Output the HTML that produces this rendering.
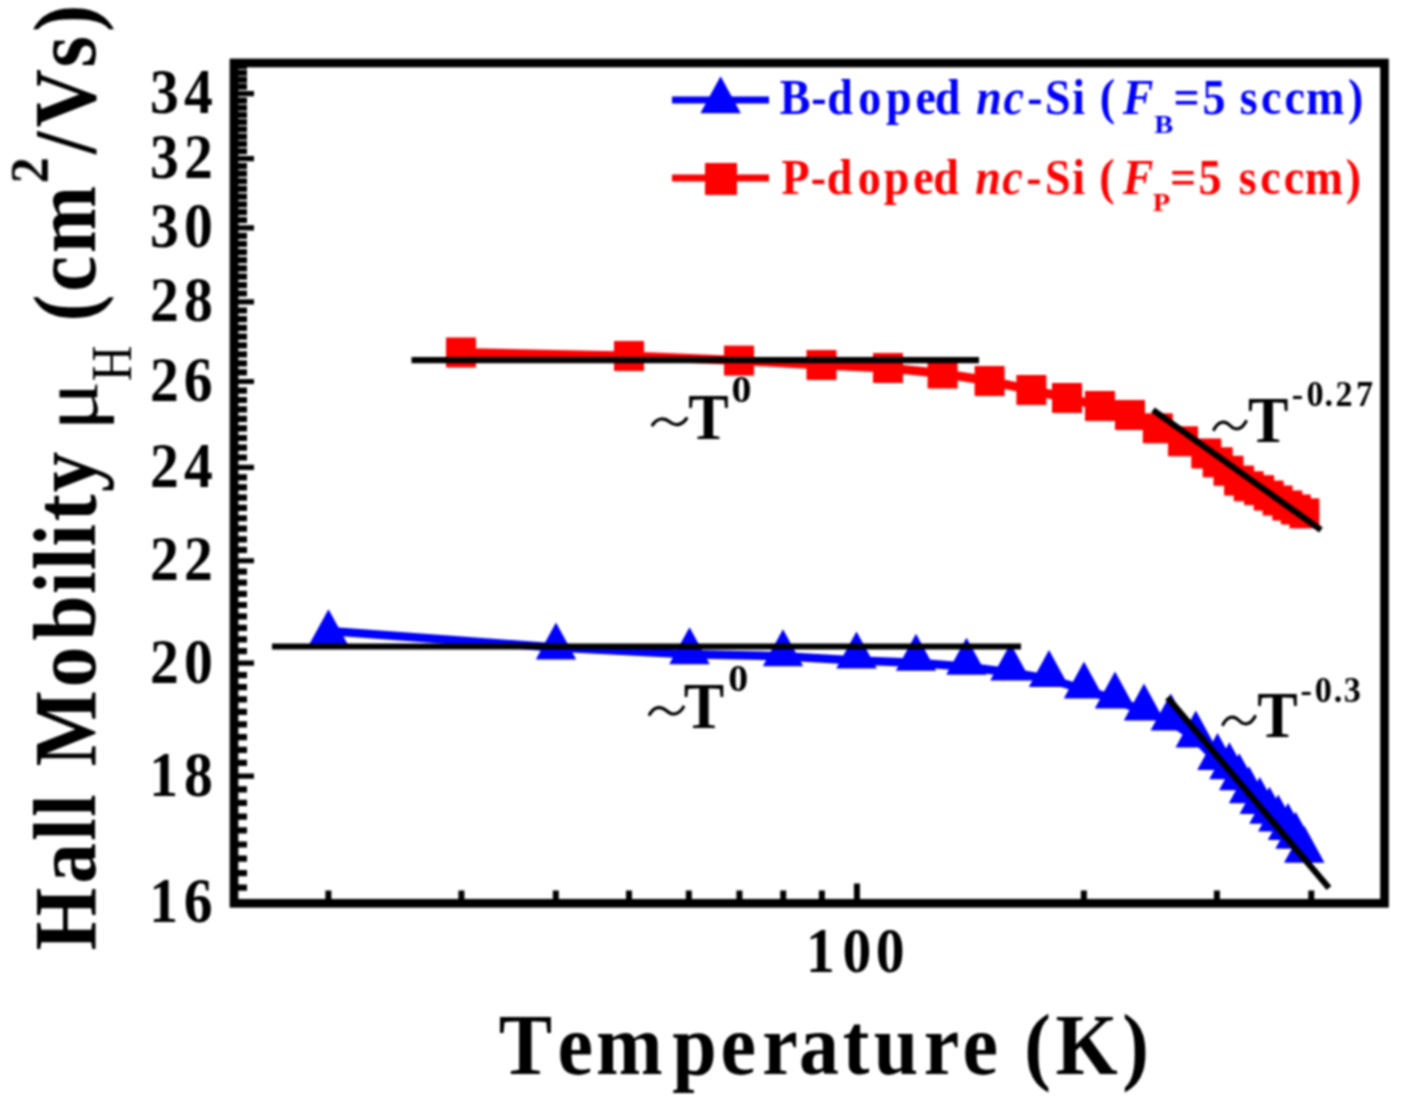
<!DOCTYPE html><html><head><meta charset="utf-8"><style>html,body{margin:0;padding:0;background:#fff}svg{display:block}text{font-family:"Liberation Serif",serif}</style></head><body><svg width="1402" height="1106" viewBox="0 0 1402 1106">
<defs><filter id="bl" x="0" y="0" width="1" height="1" color-interpolation-filters="sRGB"><feGaussianBlur stdDeviation="1.2"/></filter></defs>
<rect x="0" y="0" width="1402" height="1106" fill="#fff"/>
<g filter="url(#bl)">
<rect x="0" y="0" width="1402" height="1106" fill="#fff"/>
<polyline points="461.0,352.5 629.0,356.0 739.0,360.6 821.5,365.0 888.0,368.0 942.6,373.5 989.6,381.0 1031.4,390.0 1067.0,398.0 1100.0,406.0 1130.0,415.0 1157.8,428.3 1183.0,441.3 1206.3,453.5 1217.7,462.3 1228.5,470.8 1239.1,480.6 1248.7,486.3 1259.1,490.2 1268.7,495.6 1277.6,500.5 1287.3,505.5 1295.8,509.5 1304.4,513.4" fill="none" stroke="#f00" stroke-width="9" stroke-linejoin="round"/>
<polyline points="328.5,631.0 556.0,647.5 689.5,654.2 783.0,656.2 856.5,660.5 916.0,662.8 966.5,666.8 1010.5,672.5 1049.0,679.0 1084.0,689.5 1115.0,699.5 1144.0,711.5 1170.8,721.5 1195.8,738.5 1217.5,761.0 1229.4,770.3 1239.2,781.2 1249.0,794.2 1259.8,805.0 1269.5,814.8 1278.2,822.4 1288.0,831.0 1295.6,839.7 1304.3,853.8" fill="none" stroke="#00f" stroke-width="8.5" stroke-linejoin="round"/>
<rect x="446.0" y="337.5" width="30" height="30" fill="#f00"/>
<rect x="614.0" y="341.0" width="30" height="30" fill="#f00"/>
<rect x="724.0" y="345.6" width="30" height="30" fill="#f00"/>
<rect x="806.5" y="350.0" width="30" height="30" fill="#f00"/>
<rect x="873.0" y="353.0" width="30" height="30" fill="#f00"/>
<rect x="927.6" y="358.5" width="30" height="30" fill="#f00"/>
<rect x="974.6" y="366.0" width="30" height="30" fill="#f00"/>
<rect x="1016.4" y="375.0" width="30" height="30" fill="#f00"/>
<rect x="1052.0" y="383.0" width="30" height="30" fill="#f00"/>
<rect x="1085.0" y="391.0" width="30" height="30" fill="#f00"/>
<rect x="1115.0" y="400.0" width="30" height="30" fill="#f00"/>
<rect x="1142.8" y="413.3" width="30" height="30" fill="#f00"/>
<rect x="1168.0" y="426.3" width="30" height="30" fill="#f00"/>
<rect x="1191.3" y="438.5" width="30" height="30" fill="#f00"/>
<rect x="1202.7" y="447.3" width="30" height="30" fill="#f00"/>
<rect x="1213.5" y="455.8" width="30" height="30" fill="#f00"/>
<rect x="1224.1" y="465.6" width="30" height="30" fill="#f00"/>
<rect x="1233.7" y="471.3" width="30" height="30" fill="#f00"/>
<rect x="1244.1" y="475.2" width="30" height="30" fill="#f00"/>
<rect x="1253.7" y="480.6" width="30" height="30" fill="#f00"/>
<rect x="1262.6" y="485.5" width="30" height="30" fill="#f00"/>
<rect x="1272.3" y="490.5" width="30" height="30" fill="#f00"/>
<rect x="1280.8" y="494.5" width="30" height="30" fill="#f00"/>
<rect x="1289.4" y="498.4" width="30" height="30" fill="#f00"/>
<polygon points="308.2,646.3 348.8,646.3 328.5,609.3" fill="#00f"/>
<polygon points="535.8,659.5 576.2,659.5 556.0,622.5" fill="#00f"/>
<polygon points="669.2,664.2 709.8,664.2 689.5,627.2" fill="#00f"/>
<polygon points="762.8,666.2 803.2,666.2 783.0,629.2" fill="#00f"/>
<polygon points="836.2,668.5 876.8,668.5 856.5,631.5" fill="#00f"/>
<polygon points="895.8,670.8 936.2,670.8 916.0,633.8" fill="#00f"/>
<polygon points="946.2,674.8 986.8,674.8 966.5,637.8" fill="#00f"/>
<polygon points="990.2,680.5 1030.8,680.5 1010.5,643.5" fill="#00f"/>
<polygon points="1028.8,687.0 1069.2,687.0 1049.0,650.0" fill="#00f"/>
<polygon points="1063.8,698.5 1104.2,698.5 1084.0,661.5" fill="#00f"/>
<polygon points="1094.8,708.5 1135.2,708.5 1115.0,671.5" fill="#00f"/>
<polygon points="1123.8,720.5 1164.2,720.5 1144.0,683.5" fill="#00f"/>
<polygon points="1150.5,730.5 1191.0,730.5 1170.8,693.5" fill="#00f"/>
<polygon points="1175.5,747.5 1216.0,747.5 1195.8,710.5" fill="#00f"/>
<polygon points="1197.2,770.0 1237.8,770.0 1217.5,733.0" fill="#00f"/>
<polygon points="1209.2,779.3 1249.7,779.3 1229.4,742.3" fill="#00f"/>
<polygon points="1219.0,790.2 1259.5,790.2 1239.2,753.2" fill="#00f"/>
<polygon points="1228.8,803.2 1269.2,803.2 1249.0,766.2" fill="#00f"/>
<polygon points="1239.5,814.0 1280.0,814.0 1259.8,777.0" fill="#00f"/>
<polygon points="1249.2,823.8 1289.8,823.8 1269.5,786.8" fill="#00f"/>
<polygon points="1258.0,831.4 1298.5,831.4 1278.2,794.4" fill="#00f"/>
<polygon points="1267.8,840.0 1308.2,840.0 1288.0,803.0" fill="#00f"/>
<polygon points="1275.3,848.7 1315.8,848.7 1295.6,811.7" fill="#00f"/>
<polygon points="1284.0,862.8 1324.5,862.8 1304.3,825.8" fill="#00f"/>
<line x1="411.5" y1="360.2" x2="979" y2="360.2" stroke="#000" stroke-width="6.2" stroke-linecap="butt"/>
<line x1="1153" y1="410" x2="1321" y2="530" stroke="#000" stroke-width="6.2" stroke-linecap="butt"/>
<line x1="272" y1="646.5" x2="1021" y2="646.5" stroke="#000" stroke-width="6.2" stroke-linecap="butt"/>
<line x1="1167.5" y1="697.5" x2="1329" y2="888" stroke="#000" stroke-width="6.2" stroke-linecap="butt"/>
<path d="M237.3,887.70H247 M237.3,873.10H247 M237.3,858.69H247 M237.3,844.48H247 M237.3,830.45H247 M237.3,816.60H247 M237.3,802.93H247 M237.3,789.43H247 M237.3,762.94H247 M237.3,749.93H247 M237.3,737.08H247 M237.3,724.38H247 M237.3,711.83H247 M237.3,699.42H247 M237.3,687.15H247 M237.3,675.03H247 M237.3,651.18H247 M237.3,639.45H247 M237.3,627.85H247 M237.3,616.37H247 M237.3,605.02H247 M237.3,593.78H247 M237.3,582.66H247 M237.3,571.65H247 M237.3,549.97H247 M237.3,539.30H247 M237.3,528.72H247 M237.3,518.25H247 M237.3,507.88H247 M237.3,497.62H247 M237.3,487.44H247 M237.3,477.37H247 M237.3,457.49H247 M237.3,447.69H247 M237.3,437.98H247 M237.3,428.36H247 M237.3,418.82H247 M237.3,409.36H247 M237.3,399.99H247 M237.3,390.70H247 M237.3,372.36H247 M237.3,363.30H247 M237.3,354.32H247 M237.3,345.41H247 M237.3,336.58H247 M237.3,327.82H247 M237.3,319.13H247 M237.3,310.51H247 M237.3,293.48H247 M237.3,285.06H247 M237.3,276.71H247 M237.3,268.42H247 M237.3,260.20H247 M237.3,252.04H247 M237.3,243.94H247 M237.3,235.90H247 M237.3,220.00H247 M237.3,212.14H247 M237.3,204.34H247 M237.3,196.59H247 M237.3,188.90H247 M237.3,181.26H247 M237.3,173.67H247 M237.3,166.14H247 M237.3,151.24H247 M237.3,143.86H247 M237.3,136.54H247 M237.3,129.26H247 M237.3,122.04H247 M237.3,114.86H247 M237.3,107.73H247 M237.3,100.64H247 M237.3,86.62H247 M237.3,79.67H247 M237.3,72.77H247 M237.3,65.91H247" stroke="#000" stroke-width="6.2" fill="none"/>
<path d="M237.3,902.50H254 M237.3,776.10H254 M237.3,663.04H254 M237.3,560.76H254 M237.3,467.38H254 M237.3,381.49H254 M237.3,301.96H254 M237.3,227.92H254 M237.3,158.67H254 M237.3,93.61H254" stroke="#000" stroke-width="5.2" fill="none"/>
<path d="M328.39,899.9V890.5 M461.42,899.9V890.5 M555.81,899.9V890.5 M629.02,899.9V890.5 M688.84,899.9V890.5 M739.42,899.9V890.5 M783.23,899.9V890.5 M821.88,899.9V890.5 M1083.87,899.9V890.5 M1216.90,899.9V890.5 M1311.29,899.9V890.5 M856.94,899.9V883.5" stroke="#000" stroke-width="6" fill="none"/>
<rect x="234.0" y="63" width="1150.5" height="840.3" fill="none" stroke="#000" stroke-width="8.7"/>
<text transform="translate(149.18,922.00) scale(0.9,1)" font-family="Liberation Serif" font-weight="bold" font-style="normal" font-size="64" fill="#000">1</text>
<text transform="translate(183.76,922.00) scale(0.9,1)" font-family="Liberation Serif" font-weight="bold" font-style="normal" font-size="64" fill="#000">6</text>
<text transform="translate(149.18,795.60) scale(0.9,1)" font-family="Liberation Serif" font-weight="bold" font-style="normal" font-size="64" fill="#000">1</text>
<text transform="translate(183.90,795.60) scale(0.9,1)" font-family="Liberation Serif" font-weight="bold" font-style="normal" font-size="64" fill="#000">8</text>
<text transform="translate(150.03,682.54) scale(0.9,1)" font-family="Liberation Serif" font-weight="bold" font-style="normal" font-size="64" fill="#000">2</text>
<text transform="translate(183.90,682.54) scale(0.9,1)" font-family="Liberation Serif" font-weight="bold" font-style="normal" font-size="64" fill="#000">0</text>
<text transform="translate(150.03,580.26) scale(0.9,1)" font-family="Liberation Serif" font-weight="bold" font-style="normal" font-size="64" fill="#000">2</text>
<text transform="translate(183.93,580.26) scale(0.9,1)" font-family="Liberation Serif" font-weight="bold" font-style="normal" font-size="64" fill="#000">2</text>
<text transform="translate(150.03,486.88) scale(0.9,1)" font-family="Liberation Serif" font-weight="bold" font-style="normal" font-size="64" fill="#000">2</text>
<text transform="translate(184.04,486.88) scale(0.9,1)" font-family="Liberation Serif" font-weight="bold" font-style="normal" font-size="64" fill="#000">4</text>
<text transform="translate(150.03,400.99) scale(0.9,1)" font-family="Liberation Serif" font-weight="bold" font-style="normal" font-size="64" fill="#000">2</text>
<text transform="translate(183.76,400.99) scale(0.9,1)" font-family="Liberation Serif" font-weight="bold" font-style="normal" font-size="64" fill="#000">6</text>
<text transform="translate(150.03,321.46) scale(0.9,1)" font-family="Liberation Serif" font-weight="bold" font-style="normal" font-size="64" fill="#000">2</text>
<text transform="translate(183.90,321.46) scale(0.9,1)" font-family="Liberation Serif" font-weight="bold" font-style="normal" font-size="64" fill="#000">8</text>
<text transform="translate(149.90,247.42) scale(0.9,1)" font-family="Liberation Serif" font-weight="bold" font-style="normal" font-size="64" fill="#000">3</text>
<text transform="translate(183.90,247.42) scale(0.9,1)" font-family="Liberation Serif" font-weight="bold" font-style="normal" font-size="64" fill="#000">0</text>
<text transform="translate(149.90,178.17) scale(0.9,1)" font-family="Liberation Serif" font-weight="bold" font-style="normal" font-size="64" fill="#000">3</text>
<text transform="translate(183.93,178.17) scale(0.9,1)" font-family="Liberation Serif" font-weight="bold" font-style="normal" font-size="64" fill="#000">2</text>
<text transform="translate(149.90,113.11) scale(0.9,1)" font-family="Liberation Serif" font-weight="bold" font-style="normal" font-size="64" fill="#000">3</text>
<text transform="translate(184.04,113.11) scale(0.9,1)" font-family="Liberation Serif" font-weight="bold" font-style="normal" font-size="64" fill="#000">4</text>
<text transform="translate(806.08,971.80) scale(0.9,1)" font-family="Liberation Serif" font-weight="bold" font-style="normal" font-size="64" fill="#000">1</text>
<text transform="translate(842.50,971.80) scale(0.9,1)" font-family="Liberation Serif" font-weight="bold" font-style="normal" font-size="64" fill="#000">0</text>
<text transform="translate(875.70,971.80) scale(0.9,1)" font-family="Liberation Serif" font-weight="bold" font-style="normal" font-size="64" fill="#000">0</text>
<text transform="translate(498.69,1073.50) scale(0.92,1)" font-family="Liberation Serif" font-weight="bold" font-style="normal" font-size="87" fill="#000">T</text>
<text transform="translate(557.56,1073.50) scale(0.92,1)" font-family="Liberation Serif" font-weight="bold" font-style="normal" font-size="87" fill="#000">e</text>
<text transform="translate(596.07,1073.50) scale(0.92,1)" font-family="Liberation Serif" font-weight="bold" font-style="normal" font-size="87" fill="#000">m</text>
<text transform="translate(672.26,1073.50) scale(0.92,1)" font-family="Liberation Serif" font-weight="bold" font-style="normal" font-size="87" fill="#000">p</text>
<text transform="translate(720.61,1073.50) scale(0.92,1)" font-family="Liberation Serif" font-weight="bold" font-style="normal" font-size="87" fill="#000">e</text>
<text transform="translate(762.22,1073.50) scale(0.92,1)" font-family="Liberation Serif" font-weight="bold" font-style="normal" font-size="87" fill="#000">r</text>
<text transform="translate(799.01,1073.50) scale(0.92,1)" font-family="Liberation Serif" font-weight="bold" font-style="normal" font-size="87" fill="#000">a</text>
<text transform="translate(842.85,1073.50) scale(0.92,1)" font-family="Liberation Serif" font-weight="bold" font-style="normal" font-size="87" fill="#000">t</text>
<text transform="translate(873.81,1073.50) scale(0.92,1)" font-family="Liberation Serif" font-weight="bold" font-style="normal" font-size="87" fill="#000">u</text>
<text transform="translate(923.77,1073.50) scale(0.92,1)" font-family="Liberation Serif" font-weight="bold" font-style="normal" font-size="87" fill="#000">r</text>
<text transform="translate(962.61,1073.50) scale(0.92,1)" font-family="Liberation Serif" font-weight="bold" font-style="normal" font-size="87" fill="#000">e</text>
<text transform="translate(1024.30,1073.50) scale(0.92,1)" font-family="Liberation Serif" font-weight="bold" font-style="normal" font-size="87" fill="#000">(</text>
<text transform="translate(1055.40,1073.50) scale(0.92,1)" font-family="Liberation Serif" font-weight="bold" font-style="normal" font-size="87" fill="#000">K</text>
<text transform="translate(1122.19,1073.50) scale(0.92,1)" font-family="Liberation Serif" font-weight="bold" font-style="normal" font-size="87" fill="#000">)</text>
<text transform="rotate(-90) translate(-950.41,94.60) scale(0.92,1)" font-family="Liberation Serif" font-weight="bold" font-style="normal" font-size="88" fill="#000">H</text>
<text transform="rotate(-90) translate(-883.48,94.60) scale(0.92,1)" font-family="Liberation Serif" font-weight="bold" font-style="normal" font-size="88" fill="#000">a</text>
<text transform="rotate(-90) translate(-840.65,94.60) scale(0.92,1)" font-family="Liberation Serif" font-weight="bold" font-style="normal" font-size="88" fill="#000">l</text>
<text transform="rotate(-90) translate(-816.80,94.60) scale(0.92,1)" font-family="Liberation Serif" font-weight="bold" font-style="normal" font-size="88" fill="#000">l</text>
<text transform="rotate(-90) translate(-766.58,94.60) scale(0.92,1)" font-family="Liberation Serif" font-weight="bold" font-style="normal" font-size="88" fill="#000">M</text>
<text transform="rotate(-90) translate(-687.24,94.60) scale(0.92,1)" font-family="Liberation Serif" font-weight="bold" font-style="normal" font-size="88" fill="#000">o</text>
<text transform="rotate(-90) translate(-640.44,94.60) scale(0.92,1)" font-family="Liberation Serif" font-weight="bold" font-style="normal" font-size="88" fill="#000">b</text>
<text transform="rotate(-90) translate(-593.99,94.60) scale(0.92,1)" font-family="Liberation Serif" font-weight="bold" font-style="normal" font-size="88" fill="#000">i</text>
<text transform="rotate(-90) translate(-570.00,94.60) scale(0.92,1)" font-family="Liberation Serif" font-weight="bold" font-style="normal" font-size="88" fill="#000">l</text>
<text transform="rotate(-90) translate(-546.39,94.60) scale(0.92,1)" font-family="Liberation Serif" font-weight="bold" font-style="normal" font-size="88" fill="#000">i</text>
<text transform="rotate(-90) translate(-521.35,94.60) scale(0.92,1)" font-family="Liberation Serif" font-weight="bold" font-style="normal" font-size="88" fill="#000">t</text>
<text transform="rotate(-90) translate(-492.29,94.60) scale(0.92,1)" font-family="Liberation Serif" font-weight="bold" font-style="normal" font-size="88" fill="#000">y</text>
<text transform="rotate(-90) translate(-321.55,94.60) scale(0.92,1)" font-family="Liberation Serif" font-weight="bold" font-style="normal" font-size="88" fill="#000">(</text>
<text transform="rotate(-90) translate(-291.74,94.60) scale(0.92,1)" font-family="Liberation Serif" font-weight="bold" font-style="normal" font-size="88" fill="#000">c</text>
<text transform="rotate(-90) translate(-253.32,94.60) scale(0.92,1)" font-family="Liberation Serif" font-weight="bold" font-style="normal" font-size="88" fill="#000">m</text>
<text transform="rotate(-90) translate(-154.12,94.60) scale(0.92,1)" font-family="Liberation Serif" font-weight="bold" font-style="normal" font-size="88" fill="#000">/</text>
<text transform="rotate(-90) translate(-127.48,94.60) scale(0.92,1)" font-family="Liberation Serif" font-weight="bold" font-style="normal" font-size="88" fill="#000">V</text>
<text transform="rotate(-90) translate(-67.44,94.60) scale(0.92,1)" font-family="Liberation Serif" font-weight="bold" font-style="normal" font-size="88" fill="#000">s</text>
<text transform="rotate(-90) translate(-31.81,94.60) scale(0.92,1)" font-family="Liberation Serif" font-weight="bold" font-style="normal" font-size="88" fill="#000">)</text>
<text transform="rotate(-90) translate(-431.20,96.50) scale(1.18,1)" font-family="Liberation Serif" font-weight="normal" font-style="normal" font-size="80" fill="#000">μ</text>
<text transform="rotate(-90) translate(-381.29,130.50) scale(0.85,1)" font-family="Liberation Serif" font-weight="normal" font-style="normal" font-size="58" fill="#000">H</text>
<text transform="rotate(-90) translate(-183.37,47.80) scale(0.97,1)" font-family="Liberation Serif" font-weight="bold" font-style="normal" font-size="54" fill="#000">2</text>
<line x1="672" y1="100" x2="769" y2="100" stroke="#00f" stroke-width="7"/>
<polygon points="700.35,113.3 740.85,113.3 720.6,76.3" fill="#00f"/>
<line x1="672" y1="178" x2="769" y2="178" stroke="#f00" stroke-width="7"/>
<rect x="705" y="163" width="32" height="32" fill="#f00"/>
<text transform="translate(779.67,113.80) scale(0.92,1)" font-family="Liberation Serif" font-weight="bold" font-style="normal" font-size="50" fill="#00f">B</text>
<text transform="translate(811.24,113.80) scale(0.92,1)" font-family="Liberation Serif" font-weight="bold" font-style="normal" font-size="50" fill="#00f">-</text>
<text transform="translate(827.33,113.80) scale(0.92,1)" font-family="Liberation Serif" font-weight="bold" font-style="normal" font-size="50" fill="#00f">d</text>
<text transform="translate(858.20,113.80) scale(0.92,1)" font-family="Liberation Serif" font-weight="bold" font-style="normal" font-size="50" fill="#00f">o</text>
<text transform="translate(885.90,113.80) scale(0.92,1)" font-family="Liberation Serif" font-weight="bold" font-style="normal" font-size="50" fill="#00f">p</text>
<text transform="translate(915.50,113.80) scale(0.92,1)" font-family="Liberation Serif" font-weight="bold" font-style="normal" font-size="50" fill="#00f">e</text>
<text transform="translate(934.83,113.80) scale(0.92,1)" font-family="Liberation Serif" font-weight="bold" font-style="normal" font-size="50" fill="#00f">d</text>
<text transform="translate(976.36,113.80) scale(0.92,1)" font-family="Liberation Serif" font-weight="bold" font-style="italic" font-size="50" fill="#00f">n</text>
<text transform="translate(1003.39,113.80) scale(0.92,1)" font-family="Liberation Serif" font-weight="bold" font-style="italic" font-size="50" fill="#00f">c</text>
<text transform="translate(1027.34,113.80) scale(0.92,1)" font-family="Liberation Serif" font-weight="bold" font-style="normal" font-size="50" fill="#00f">-</text>
<text transform="translate(1044.96,113.80) scale(0.92,1)" font-family="Liberation Serif" font-weight="bold" font-style="normal" font-size="50" fill="#00f">S</text>
<text transform="translate(1072.29,113.80) scale(0.92,1)" font-family="Liberation Serif" font-weight="bold" font-style="normal" font-size="50" fill="#00f">i</text>
<text transform="translate(1099.72,113.80) scale(0.92,1)" font-family="Liberation Serif" font-weight="bold" font-style="normal" font-size="50" fill="#00f">(</text>
<text transform="translate(1122.71,113.80) scale(0.92,1)" font-family="Liberation Serif" font-weight="bold" font-style="italic" font-size="50" fill="#00f">F</text>
<text transform="translate(1173.52,113.80) scale(0.92,1)" font-family="Liberation Serif" font-weight="bold" font-style="normal" font-size="50" fill="#00f">=</text>
<text transform="translate(1202.62,113.80) scale(0.92,1)" font-family="Liberation Serif" font-weight="bold" font-style="normal" font-size="50" fill="#00f">5</text>
<text transform="translate(1239.76,113.80) scale(0.92,1)" font-family="Liberation Serif" font-weight="bold" font-style="normal" font-size="50" fill="#00f">s</text>
<text transform="translate(1260.88,113.80) scale(0.92,1)" font-family="Liberation Serif" font-weight="bold" font-style="normal" font-size="50" fill="#00f">c</text>
<text transform="translate(1284.38,113.80) scale(0.92,1)" font-family="Liberation Serif" font-weight="bold" font-style="normal" font-size="50" fill="#00f">c</text>
<text transform="translate(1306.07,113.80) scale(0.92,1)" font-family="Liberation Serif" font-weight="bold" font-style="normal" font-size="50" fill="#00f">m</text>
<text transform="translate(1348.06,113.80) scale(0.92,1)" font-family="Liberation Serif" font-weight="bold" font-style="normal" font-size="50" fill="#00f">)</text>
<text transform="translate(1154.22,132.50) scale(1.1,1)" font-family="Liberation Serif" font-weight="bold" font-style="normal" font-size="26" fill="#00f">B</text>
<text transform="translate(781.51,193.50) scale(0.92,1)" font-family="Liberation Serif" font-weight="bold" font-style="normal" font-size="50" fill="#f00">P</text>
<text transform="translate(810.69,193.50) scale(0.92,1)" font-family="Liberation Serif" font-weight="bold" font-style="normal" font-size="50" fill="#f00">-</text>
<text transform="translate(826.83,193.50) scale(0.92,1)" font-family="Liberation Serif" font-weight="bold" font-style="normal" font-size="50" fill="#f00">d</text>
<text transform="translate(857.70,193.50) scale(0.92,1)" font-family="Liberation Serif" font-weight="bold" font-style="normal" font-size="50" fill="#f00">o</text>
<text transform="translate(883.70,193.50) scale(0.92,1)" font-family="Liberation Serif" font-weight="bold" font-style="normal" font-size="50" fill="#f00">p</text>
<text transform="translate(913.35,193.50) scale(0.92,1)" font-family="Liberation Serif" font-weight="bold" font-style="normal" font-size="50" fill="#f00">e</text>
<text transform="translate(933.28,193.50) scale(0.92,1)" font-family="Liberation Serif" font-weight="bold" font-style="normal" font-size="50" fill="#f00">d</text>
<text transform="translate(975.21,193.50) scale(0.92,1)" font-family="Liberation Serif" font-weight="bold" font-style="italic" font-size="50" fill="#f00">n</text>
<text transform="translate(1002.34,193.50) scale(0.92,1)" font-family="Liberation Serif" font-weight="bold" font-style="italic" font-size="50" fill="#f00">c</text>
<text transform="translate(1026.24,193.50) scale(0.92,1)" font-family="Liberation Serif" font-weight="bold" font-style="normal" font-size="50" fill="#f00">-</text>
<text transform="translate(1044.96,193.50) scale(0.92,1)" font-family="Liberation Serif" font-weight="bold" font-style="normal" font-size="50" fill="#f00">S</text>
<text transform="translate(1072.29,193.50) scale(0.92,1)" font-family="Liberation Serif" font-weight="bold" font-style="normal" font-size="50" fill="#f00">i</text>
<text transform="translate(1099.17,193.50) scale(0.92,1)" font-family="Liberation Serif" font-weight="bold" font-style="normal" font-size="50" fill="#f00">(</text>
<text transform="translate(1122.71,193.50) scale(0.92,1)" font-family="Liberation Serif" font-weight="bold" font-style="italic" font-size="50" fill="#f00">F</text>
<text transform="translate(1170.02,193.50) scale(0.92,1)" font-family="Liberation Serif" font-weight="bold" font-style="normal" font-size="50" fill="#f00">=</text>
<text transform="translate(1198.57,193.50) scale(0.92,1)" font-family="Liberation Serif" font-weight="bold" font-style="normal" font-size="50" fill="#f00">5</text>
<text transform="translate(1238.66,193.50) scale(0.92,1)" font-family="Liberation Serif" font-weight="bold" font-style="normal" font-size="50" fill="#f00">s</text>
<text transform="translate(1260.33,193.50) scale(0.92,1)" font-family="Liberation Serif" font-weight="bold" font-style="normal" font-size="50" fill="#f00">c</text>
<text transform="translate(1283.78,193.50) scale(0.92,1)" font-family="Liberation Serif" font-weight="bold" font-style="normal" font-size="50" fill="#f00">c</text>
<text transform="translate(1304.87,193.50) scale(0.92,1)" font-family="Liberation Serif" font-weight="bold" font-style="normal" font-size="50" fill="#f00">m</text>
<text transform="translate(1345.71,193.50) scale(0.92,1)" font-family="Liberation Serif" font-weight="bold" font-style="normal" font-size="50" fill="#f00">)</text>
<text transform="translate(1152.63,211.00) scale(1.1,1)" font-family="Liberation Serif" font-weight="bold" font-style="normal" font-size="26" fill="#f00">P</text>
<path d="M652.5,425.0 C657.7,417.5 664.3,417.5 669.5,421.8 S681.3,426.0 686.5,418.5" fill="none" stroke="#000" stroke-width="3.2" stroke-linecap="round"/>
<text transform="translate(688.24,438.50) scale(0.92,1)" font-family="Liberation Serif" font-weight="bold" font-style="normal" font-size="66" fill="#000">T</text>
<text transform="translate(731.52,401.50) scale(1.05,1)" font-family="Liberation Serif" font-weight="bold" font-style="normal" font-size="38" fill="#000">0</text>
<path d="M649.5,714.5 C654.7,706.0 661.3,706.0 666.5,710.8 S678.3,715.5 683.5,707.0" fill="none" stroke="#000" stroke-width="3.2" stroke-linecap="round"/>
<text transform="translate(683.74,728.00) scale(0.92,1)" font-family="Liberation Serif" font-weight="bold" font-style="normal" font-size="66" fill="#000">T</text>
<text transform="translate(728.23,690.50) scale(1.05,1)" font-family="Liberation Serif" font-weight="bold" font-style="normal" font-size="38" fill="#000">0</text>
<path d="M1214.0,429.5 C1218.8,420.5 1225.1,420.5 1230.0,425.5 S1241.2,430.5 1246.0,421.5" fill="none" stroke="#000" stroke-width="3.2" stroke-linecap="round"/>
<text transform="translate(1248.04,441.80) scale(0.92,1)" font-family="Liberation Serif" font-weight="bold" font-style="normal" font-size="66" fill="#000">T</text>
<text transform="translate(1291.81,406.00) scale(0.95,1)" font-family="Liberation Serif" font-weight="bold" font-style="normal" font-size="36" fill="#000">-</text>
<text transform="translate(1306.45,406.00) scale(0.95,1)" font-family="Liberation Serif" font-weight="bold" font-style="normal" font-size="36" fill="#000">0</text>
<text transform="translate(1324.62,406.00) scale(0.95,1)" font-family="Liberation Serif" font-weight="bold" font-style="normal" font-size="36" fill="#000">.</text>
<text transform="translate(1335.57,406.00) scale(0.95,1)" font-family="Liberation Serif" font-weight="bold" font-style="normal" font-size="36" fill="#000">2</text>
<text transform="translate(1355.99,406.00) scale(0.95,1)" font-family="Liberation Serif" font-weight="bold" font-style="normal" font-size="36" fill="#000">7</text>
<path d="M1223.0,724.5 C1227.8,715.5 1234.1,715.5 1239.0,720.5 S1250.2,725.5 1255.0,716.5" fill="none" stroke="#000" stroke-width="3.2" stroke-linecap="round"/>
<text transform="translate(1257.34,736.80) scale(0.92,1)" font-family="Liberation Serif" font-weight="bold" font-style="normal" font-size="66" fill="#000">T</text>
<text transform="translate(1300.51,701.50) scale(0.95,1)" font-family="Liberation Serif" font-weight="bold" font-style="normal" font-size="36" fill="#000">-</text>
<text transform="translate(1314.65,701.50) scale(0.95,1)" font-family="Liberation Serif" font-weight="bold" font-style="normal" font-size="36" fill="#000">0</text>
<text transform="translate(1333.72,701.50) scale(0.95,1)" font-family="Liberation Serif" font-weight="bold" font-style="normal" font-size="36" fill="#000">.</text>
<text transform="translate(1343.79,701.50) scale(0.95,1)" font-family="Liberation Serif" font-weight="bold" font-style="normal" font-size="36" fill="#000">3</text>
</g>
</svg></body></html>
